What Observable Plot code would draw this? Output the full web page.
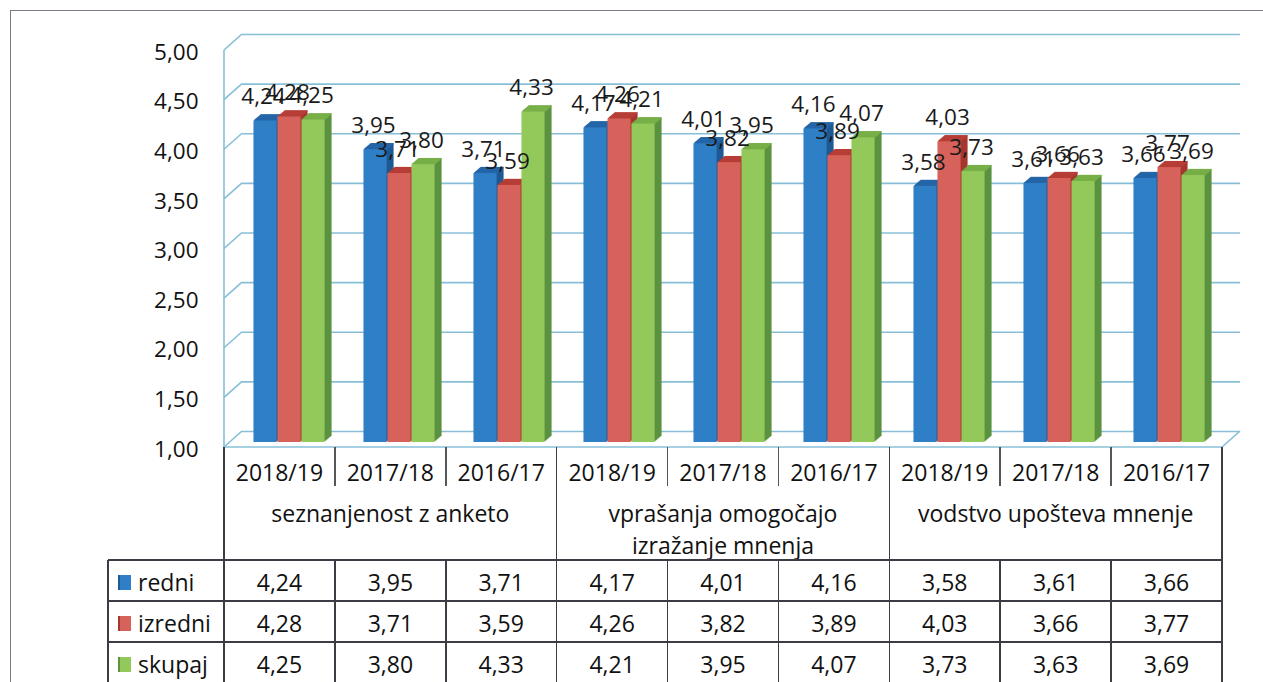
<!DOCTYPE html>
<html>
<head>
<meta charset="utf-8">
<script src="https://cdn.jsdelivr.net/npm/d3@7"></script>
<script src="https://cdn.jsdelivr.net/npm/@observablehq/plot@0.6"></script>
<style>
  html, body { margin: 0; padding: 0; background: #fff; }
  body { width: 1263px; height: 682px; overflow: hidden; position: relative; font-family: "Open Sans", Lato, sans-serif; color: #111; }
  #frame { position: absolute; left: 10px; top: 10px; width: 1300px; height: 700px; border-left: 1.5px solid #7a7a86; border-top: 1.5px solid #7a7a86; }
  #chart { position: absolute; left: 0; top: 0; }
  #table { position: absolute; left: 0; top: 0; width: 1263px; height: 682px; pointer-events: none; }
  .ln { position: absolute; background: #3c3c44; }
  .tx { position: absolute; text-align: center; white-space: nowrap; font-size: 23px; line-height: 26px; }
  .sw { position: absolute; width: 13px; height: 15px; }
</style>
</head>
<body>
<div id="frame"></div>
<div id="chart"></div>
<div id="table"></div>
<script>
// ---------------- data ----------------
const groups = ["seznanjenost z anketo", "vprašanja omogočajo\nizražanje mnenja", "vodstvo upošteva mnenje"];
const years = ["2018/19", "2017/18", "2016/17"];
const seriesNames = ["redni", "izredni", "skupaj"];
const redni   = [4.24, 3.95, 3.71, 4.17, 4.01, 4.16, 3.58, 3.61, 3.66];
const izredni = [4.28, 3.71, 3.59, 4.26, 3.82, 3.89, 4.03, 3.66, 3.77];
const skupaj  = [4.25, 3.80, 4.33, 4.21, 3.95, 4.07, 3.73, 3.63, 3.69];
const yTicks = [1.0, 1.5, 2.0, 2.5, 3.0, 3.5, 4.0, 4.5, 5.0];

// ---------------- styles ----------------
const FONT = "'Open Sans', Lato, sans-serif";
const frontColors = ["#2f7fc6", "#d7625b", "#93c85a"];
const topColors   = ["#2466a8", "#b73e37", "#78b047"];
const sideColors  = ["#1e5a94", "#a5372f", "#5b9340"];
const GRID = "#88bfd7";

const seriesValues = [redni, izredni, skupaj];
const keys = [];
groups.forEach((g, gi) => years.forEach(y => keys.push(gi + "|" + y)));
const rows = [];
seriesNames.forEach((s, si) => keys.forEach((k, ki) => rows.push({key: k, series: s, value: seriesValues[si][ki]})));
const fmt = d => d.toFixed(2).replace(".", ",");

// ---------------- layout ----------------
const W = 1263, H = 470, mL = 224, mR = 41, mT = 50, mB = 23;
const colW = (W - mL - mR) / keys.length;
const sub = d3.scaleBand(seriesNames, [0, colW]).paddingInner(0).paddingOuter(0.81).align(0.655);
const bw = sub.bandwidth();
const DEPTH = 7, SLOPE = 0.85, BAR_DY = -5;
const BACK_DX = 18, BACK_DY = -16;

function wall(index, scales, values, dims) {
  const y = scales.y;
  const x0 = dims.marginLeft, x1 = dims.width - dims.marginRight;
  const g = d3.create("svg:g").attr("stroke", GRID).attr("stroke-width", 1.6).attr("fill", "none");
  g.append("line").attr("x1", x0).attr("x2", x0).attr("y1", y(yTicks[yTicks.length - 1])).attr("y2", y(yTicks[0]));
  for (const t of yTicks) {
    g.append("line").attr("x1", x0).attr("y1", y(t)).attr("x2", x0 + BACK_DX).attr("y2", y(t) + BACK_DY);
  }
  g.append("line").attr("x1", x1).attr("y1", y(yTicks[0])).attr("x2", x1 + BACK_DX).attr("y2", y(yTicks[0]) + BACK_DY);
  g.append("line").attr("x1", x0).attr("y1", y(yTicks[0])).attr("x2", x1).attr("y2", y(yTicks[0]));
  return g.node();
}

const marks = [
  Plot.ruleY(yTicks, {dx: BACK_DX, dy: BACK_DY, stroke: GRID, strokeWidth: 1.6}),
  wall
];

seriesNames.forEach((s, si) => {
  const data = rows.filter(r => r.series === s);
  const iL = sub(s), iR = colW - sub(s) - bw;
  for (let i = DEPTH; i >= 1; i--) {
    marks.push(Plot.barY(data, {x: "key", y1: 1, y2: "value", insetLeft: iL, insetRight: iR,
      dx: i, dy: BAR_DY - i * SLOPE, fill: sideColors[si]}));
  }
  for (let i = 1; i <= DEPTH; i++) {
    marks.push(Plot.tickY(data, {x: "key", y: "value", insetLeft: iL, insetRight: iR,
      dx: i, dy: BAR_DY - i * SLOPE, stroke: topColors[si], strokeWidth: 1.4}));
  }
  marks.push(Plot.barY(data, {x: "key", y1: 1, y2: "value", insetLeft: iL, insetRight: iR,
    dy: BAR_DY, fill: frontColors[si]}));
});

seriesNames.forEach((s, si) => {
  const data = rows.filter(r => r.series === s);
  marks.push(Plot.text(data, {x: "key", y: "value", text: d => fmt(d.value),
    dx: sub(s) + bw / 2 - colW / 2 - 2, dy: -29, fontSize: 22.5, fill: "#1a1a1a", fontFamily: FONT}));
});

marks.push(Plot.axisY(yTicks, {tickFormat: fmt, tickSize: 0, tickPadding: 26, fontSize: 22.5, dy: 2,
  fill: "#111", fontFamily: FONT, label: null}));

const chart = Plot.plot({
  width: W, height: H,
  marginLeft: mL, marginRight: mR, marginTop: mT, marginBottom: mB,
  style: {background: "transparent", fontFamily: FONT},
  x: {domain: keys, padding: 0, axis: null},
  y: {domain: [yTicks[0], yTicks[yTicks.length - 1]], axis: null, label: null},
  marks
});
document.getElementById("chart").appendChild(chart);

// ---------------- data table below the chart ----------------
const T = document.getElementById("table");
function el(cls, css, text) {
  const d = document.createElement("div");
  d.className = cls;
  Object.assign(d.style, css);
  if (text != null) d.textContent = text;
  T.appendChild(d);
  return d;
}
const hline = (x1, x2, y) => el("ln", {left: x1 + "px", top: (y - 0.75) + "px", width: (x2 - x1) + "px", height: "1.5px"});
const vline = (x, y1, y2, c) => el("ln", {left: (x - 0.75) + "px", top: y1 + "px", width: "1.5px", height: (y2 - y1) + "px", background: c || "#3c3c44"});
const text = (cx, cy, t, w = 220) => el("tx", {left: (cx - w / 2) + "px", width: w + "px", top: (cy - 13) + "px"}, t);

const edges = d3.range(keys.length + 1).map(j => mL + j * colW);
const tTop = 447, yearMid = 472, groupTop = 497, headBottom = 560, rowH = 41, legLeft = 108;
const rowLines = d3.range(seriesNames.length + 1).map(i => headBottom + i * rowH);

// header: years
keys.forEach((k, j) => text((edges[j] + edges[j + 1]) / 2, yearMid, years[j % years.length]));
edges.forEach((x, j) => {
  if (j % years.length === 0) vline(x, tTop, 690);
  else { vline(x, tTop, 486, "#55555c"); vline(x, headBottom, 690); }
});
// header: groups
groups.forEach((g, gi) => {
  const cx = (edges[gi * 3] + edges[gi * 3 + 3]) / 2;
  g.split("\n").forEach((line, li) => text(cx, groupTop + 16 + li * 32, line, 330));
});
// rows
rowLines.forEach(y => hline(legLeft, edges[edges.length - 1], y));
vline(legLeft, headBottom, 690);
seriesNames.forEach((s, si) => {
  const cy = headBottom + si * rowH + rowH / 2 + 1;
  el("sw", {left: "118px", top: (cy - 7) + "px", background: frontColors[si], borderLeft: "2px solid " + sideColors[si], width: "11px"});
  el("tx", {left: "138px", top: (cy - 13) + "px", textAlign: "left"}, s);
  seriesValues[si].forEach((v, j) => text((edges[j] + edges[j + 1]) / 2, cy, fmt(v), 100));
});
</script>
</body>
</html>
